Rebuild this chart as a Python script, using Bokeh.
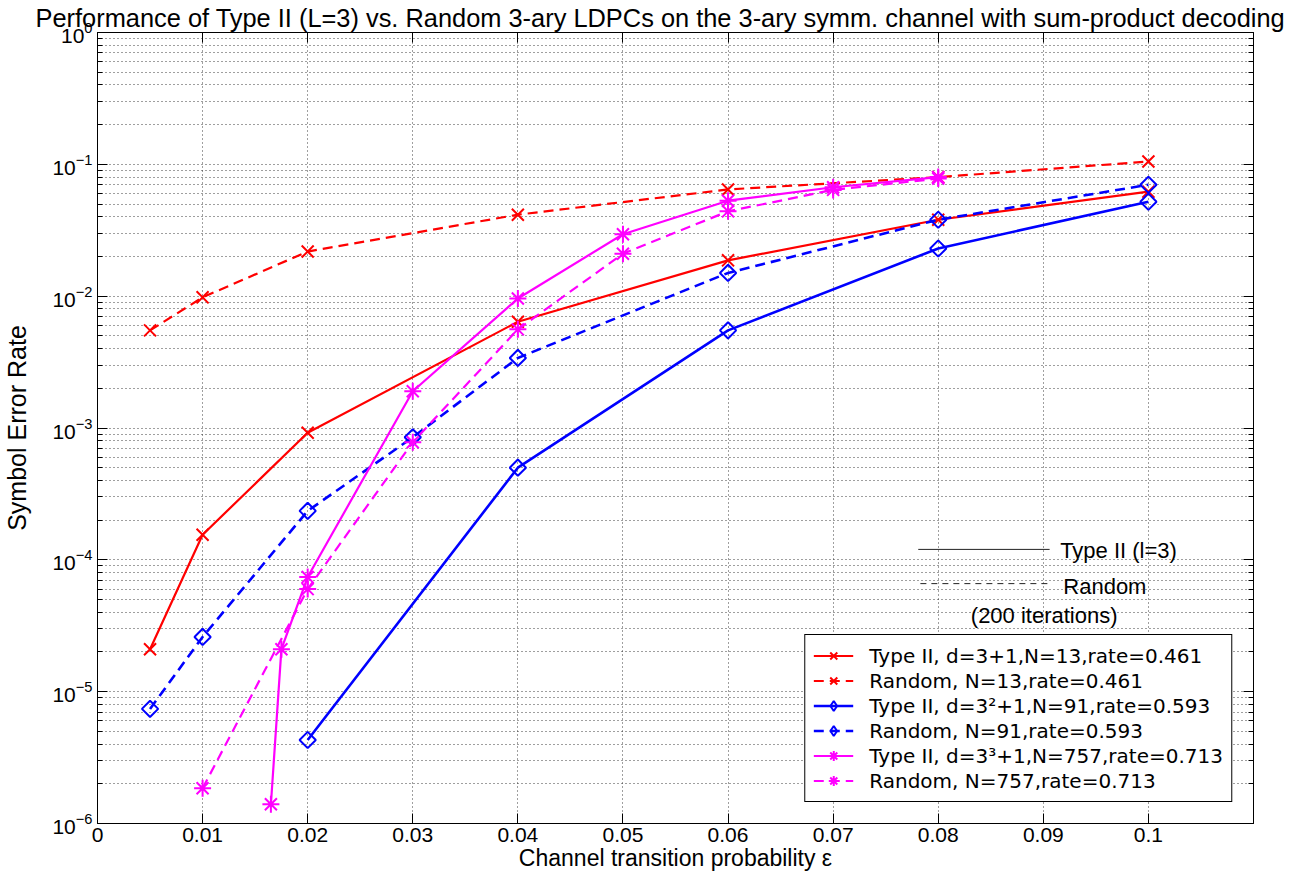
from bokeh.plotting import figure
from bokeh.models import (FixedTicker, LogAxis, LinearAxis, Legend, LegendItem,
                          Label, Range1d)
from bokeh.embed import file_html
from bokeh.resources import INLINE

# ---------------- data ----------------
title_text = ("Performance of Type II (L=3) vs. Random 3-ary LDPCs on the 3-ary "
              "symm. channel with sum-product decoding")
x_label = "Channel transition probability \u03b5"
y_label = "Symbol Error Rate"

x_ticks = [0, 0.01, 0.02, 0.03, 0.04, 0.05, 0.06, 0.07, 0.08, 0.09, 0.1]
x_tick_labels = ["0", "0.01", "0.02", "0.03", "0.04", "0.05", "0.06",
                 "0.07", "0.08", "0.09", "0.1"]
y_major = [1e-6, 1e-5, 1e-4, 1e-3, 1e-2, 1e-1, 1e0]
y_minor = [m * d for d in [1e-6, 1e-5, 1e-4, 1e-3, 1e-2, 1e-1]
           for m in [2, 3, 4, 5, 6, 7, 8, 9]]

# Type II, d=3+1, N=13
red_solid_x = [0.005, 0.01, 0.02, 0.04, 0.06, 0.08, 0.1]
red_solid_y = [2.1e-5, 1.55e-4, 9.2e-4, 6.4e-3, 1.87e-2, 3.8e-2, 6.2e-2]
# Random, N=13
red_dash_x = [0.005, 0.01, 0.02, 0.04, 0.06, 0.08, 0.1]
red_dash_y = [5.5e-3, 9.8e-3, 2.18e-2, 4.15e-2, 6.45e-2, 8.0e-2, 1.05e-1]
# Type II, d=3^2+1, N=91
blue_solid_x = [0.02, 0.04, 0.06, 0.08, 0.1]
blue_solid_y = [4.3e-6, 5.0e-4, 5.5e-3, 2.3e-2, 5.2e-2]
# Random, N=91
blue_dash_x = [0.005, 0.01, 0.02, 0.03, 0.04, 0.06, 0.08, 0.1]
blue_dash_y = [7.4e-6, 2.6e-5, 2.35e-4, 8.5e-4, 3.4e-3, 1.5e-2, 3.8e-2, 7.0e-2]
# Type II, d=3^3+1, N=757
mag_solid_x = [0.0165, 0.0175, 0.02, 0.03, 0.04, 0.05, 0.06, 0.07, 0.08]
mag_solid_y = [1.4e-6, 2.1e-5, 7.4e-5, 1.9e-3, 9.6e-3, 2.95e-2, 5.3e-2, 6.7e-2, 8.0e-2]
# Random, N=757
mag_dash_x = [0.01, 0.02, 0.03, 0.04, 0.05, 0.06, 0.07, 0.08]
mag_dash_y = [1.85e-6, 6.0e-5, 7.8e-4, 5.6e-3, 2.1e-2, 4.4e-2, 6.4e-2, 7.8e-2]

legend_labels = [
    "Type II, d=3+1,N=13,rate=0.461",
    "Random, N=13,rate=0.461",
    "Type II, d=3\u00b2+1,N=91,rate=0.593",
    "Random, N=91,rate=0.593",
    "Type II, d=3\u00b3+1,N=757,rate=0.713",
    "Random, N=757,rate=0.713",
]

# in-plot key annotation
key_texts = ["Type II (l=3)", "Random", "(200 iterations)"]
key_text_x = [0.0916, 0.0919, 0.0831]
key_text_y = [1.18e-4, 6.3e-5, 3.8e-5]
key_line_x0 = [0.0781, 0.0783]
key_line_x1 = [0.0906, 0.0906]
key_line_y = [1.2e-4, 6.6e-5]

FONT = "Liberation Sans"
LEG_FONT = "DejaVu Sans"

# ---------------- figure ----------------
p = figure(width=1285, height=878, y_axis_type="log",
           x_range=Range1d(0, 0.11), y_range=Range1d(1e-6, 1),
           output_backend="svg", toolbar_location=None,
           min_border_left=92, min_border_right=32,
           min_border_top=29, min_border_bottom=55)
p.background_fill_color = "white"
p.border_fill_color = "white"
p.outline_line_color = "black"
p.outline_line_width = 1
p.outline_line_alpha = 1

p.title.text = title_text
p.title.text_font = FONT
p.title.text_font_size = "25.4px"
p.title.text_font_style = "normal"
p.title.text_color = "black"
p.title.align = "left"
p.title.offset = -62
p.title.standoff = 2

xt = FixedTicker(ticks=x_ticks, minor_ticks=[])
yt = FixedTicker(ticks=y_major, minor_ticks=y_minor)

xa = p.xaxis[0]
xa.ticker = xt
xa.major_label_overrides = {t: l for t, l in zip(x_ticks, x_tick_labels)}
ya = p.yaxis[0]
ya.ticker = yt
p.xgrid[0].ticker = xt
p.ygrid[0].ticker = yt

for ax in (xa, ya):
    ax.major_label_text_font = FONT
    ax.major_label_text_font_size = "21px"
    ax.major_label_text_color = "black"
    ax.axis_label_text_font = FONT
    ax.axis_label_text_font_style = "normal"
    ax.axis_label_text_color = "black"
    ax.axis_line_color = "black"
    ax.major_tick_line_color = "black"
    ax.minor_tick_line_color = "black"
    ax.major_tick_in = 10
    ax.major_tick_out = 0
    ax.minor_tick_in = 5
    ax.minor_tick_out = 0

xa.axis_label = x_label
xa.axis_label_text_font_size = "23px"
xa.major_label_standoff = 4
xa.axis_label_standoff = 0
ya.axis_label = y_label
ya.axis_label_text_font_size = "25px"
ya.major_label_standoff = 5
ya.axis_label_standoff = 18

# box ticks on top / right (labels hidden)
top_ax = LinearAxis(ticker=xt, major_label_text_font_size="1px",
                    major_label_text_color=None,
                    major_label_standoff=0, major_tick_in=10, major_tick_out=0,
                    minor_tick_in=0, minor_tick_out=0, axis_line_color="black",
                    major_tick_line_color="black")
right_ax = LogAxis(ticker=yt, major_label_text_font_size="1px",
                   major_label_text_color=None,
                   major_label_standoff=0, major_tick_in=10, major_tick_out=0,
                   minor_tick_in=5, minor_tick_out=0, axis_line_color="black",
                   major_tick_line_color="black", minor_tick_line_color="black")
p.add_layout(top_ax, "above")
p.add_layout(right_ax, "right")

grid_col = "#2a2a2a"
p.xgrid.grid_line_color = grid_col
p.xgrid.grid_line_dash = "1 3"
p.xgrid.grid_line_width = 1
p.xgrid.grid_line_alpha = 0.9
p.ygrid.grid_line_color = grid_col
p.ygrid.grid_line_dash = "1 3"
p.ygrid.grid_line_width = 1
p.ygrid.grid_line_alpha = 0.9
p.ygrid.minor_grid_line_color = grid_col
p.ygrid.minor_grid_line_dash = "1 3"
p.ygrid.minor_grid_line_width = 1
p.ygrid.minor_grid_line_alpha = 0.9

# ---------------- series ----------------
RED, BLUE, MAG = "#ff0000", "#0000ff", "#ff00ff"
DASH = "10 6"
series = [
    (red_solid_x, red_solid_y, RED, "solid", "x", 17, 0, "x"),
    (red_dash_x, red_dash_y, RED, DASH, "x", 17, 0, "x"),
    (blue_solid_x, blue_solid_y, BLUE, "solid", "square", 11.5, 0.785398, "diamond"),
    (blue_dash_x, blue_dash_y, BLUE, DASH, "square", 11.5, 0.785398, "diamond"),
    (mag_solid_x, mag_solid_y, MAG, "solid", "asterisk", 17, 0, "asterisk"),
    (mag_dash_x, mag_dash_y, MAG, DASH, "asterisk", 17, 0, "asterisk"),
]
items = []
for (xs, ys, col, dash, mk, sz, ang, leg_mk), lab in zip(series, legend_labels):
    lw = 2.6 if col == BLUE else 2.2
    r1 = p.line(xs, ys, line_color=col, line_width=lw, line_dash=dash)
    r2 = p.scatter(xs, ys, marker=mk, size=sz, angle=ang,
                   line_color=col, fill_color=None, line_width=2)
    if leg_mk != mk:
        # legend proxy: zero-size in the plot, upright diamond in the key
        r3 = p.scatter(xs, ys, marker=leg_mk, size=0,
                       line_color=col, fill_color=None, line_width=2)
        items.append(LegendItem(label=lab, renderers=[r1, r3]))
    else:
        items.append(LegendItem(label=lab, renderers=[r1, r2]))

legend = Legend(items=items, location="bottom_right")
legend.label_text_font = LEG_FONT
legend.label_text_font_size = "20px"
legend.label_text_color = "black"
legend.glyph_width = 40
legend.glyph_height = 25
legend.label_height = 25
legend.spacing = 0
legend.padding = 8
legend.margin = 21
legend.label_standoff = 16
legend.border_line_color = "black"
legend.border_line_width = 1
legend.border_line_alpha = 1
legend.background_fill_color = "white"
legend.background_fill_alpha = 1
p.add_layout(legend)

# key annotation
p.segment(x0=key_line_x0[0], y0=key_line_y[0], x1=key_line_x1[0], y1=key_line_y[0],
          line_color="#222222", line_width=1)
p.segment(x0=key_line_x0[1], y0=key_line_y[1], x1=key_line_x1[1], y1=key_line_y[1],
          line_color="#222222", line_width=1, line_dash="6 5")
for t, tx, ty in zip(key_texts, key_text_x, key_text_y):
    p.add_layout(Label(x=tx, y=ty, text=t, text_font=FONT, text_font_size="22px",
                       text_baseline="middle", text_align="left",
                       text_color="black"))

open("out.html", "w").write(file_html(p, INLINE))
